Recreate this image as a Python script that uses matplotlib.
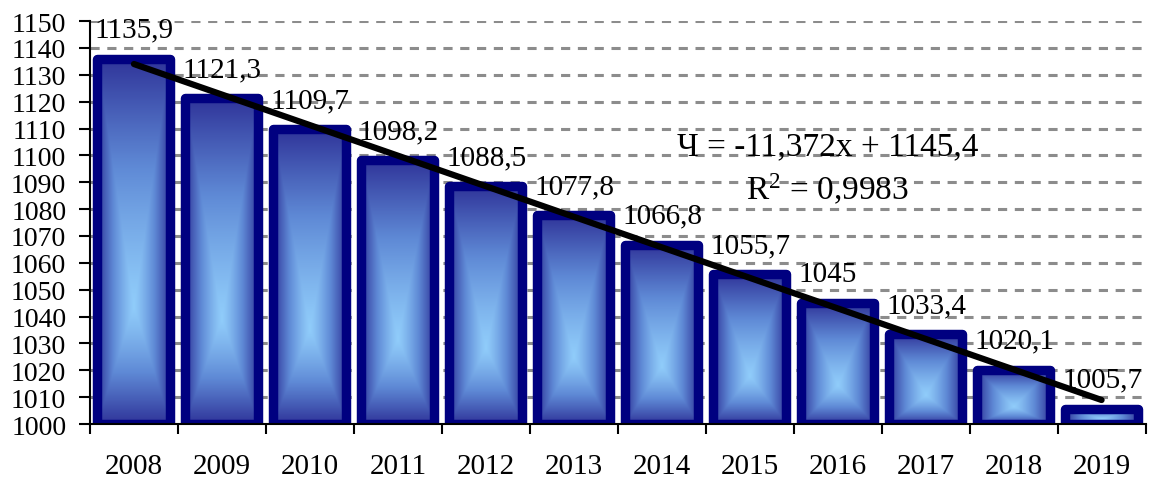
import numpy as np
import matplotlib
matplotlib.use("Agg")
import matplotlib.pyplot as plt
from matplotlib.colors import LinearSegmentedColormap
from matplotlib.ticker import FixedLocator

years = ['2008', '2009', '2010', '2011', '2012', '2013',
         '2014', '2015', '2016', '2017', '2018', '2019']
values = [1135.9, 1121.3, 1109.7, 1098.2, 1088.5, 1077.8,
          1066.8, 1055.7, 1045.0, 1033.4, 1020.1, 1005.7]
labels = ['1135,9', '1121,3', '1109,7', '1098,2', '1088,5', '1077,8',
          '1066,8', '1055,7', '1045', '1033,4', '1020,1', '1005,7']
trend_slope = -11.372
trend_icpt = 1145.4
eq_text = 'Ч = -11,372x + 1145,4'
r2_text = 'R$^2$ = 0,9983'

plt.rcParams['font.family'] = ['Liberation Serif', 'DejaVu Serif']
plt.rcParams['mathtext.fontset'] = 'custom'
plt.rcParams['mathtext.rm'] = 'Liberation Serif'
plt.rcParams['mathtext.it'] = 'Liberation Serif'
plt.rcParams['mathtext.default'] = 'rm'

fig = plt.figure(figsize=(11.49, 4.81), dpi=100)
ax = fig.add_axes([0.0783, 0.1164, 0.9187, 0.8376])

base = 1000
x = np.arange(len(years))

# grid behind bars
for yv in range(1010, 1151, 10):
    ax.axhline(yv, color='#8c8c8c', lw=2.2, ls=(0, (3, 2.5)), zorder=0)

cmap = LinearSegmentedColormap.from_list('grad', ['#90ccfa', '#5f8ad6', '#30359a'])
heights = [v - base for v in values]
bars = ax.bar(x, heights, width=0.83, bottom=base, facecolor='none',
              edgecolor='#000080', linewidth=6.8, joinstyle='round', zorder=3)

# gradient fill, light centre (a bit low) to dark edges
u = np.linspace(-1, 1, 60)
s = np.linspace(0, 1, 160)
c = 0.32
v = np.where(s < c, (s - c) / c, (s - c) / (1 - c))
U, V = np.meshgrid(u, v)
t = np.maximum(np.abs(U), np.abs(V)) ** 1.2
for b in bars:
    bx, by = b.get_x(), b.get_y()
    bw, bh = b.get_width(), b.get_height()
    im = ax.imshow(t, cmap=cmap, extent=[bx, bx + bw, by, by + bh],
                   aspect='auto', origin='lower', zorder=2,
                   interpolation='bilinear', vmin=0, vmax=1)
    im.set_clip_path(b)

# trend line
xt = np.array([0, len(years) - 1])
yt = trend_slope * (xt + 1) + trend_icpt
ax.plot(xt, yt, color='black', lw=4.5, solid_capstyle='round', zorder=4)

# value labels
for i, (val, lab) in enumerate(zip(values, labels)):
    ax.annotate(lab, xy=(i - 0.45, val), xytext=(0, 21),
                textcoords='offset points', ha='left', va='center',
                fontsize=21, color='black', zorder=5)

ax.text(0.699, 0.690, eq_text, transform=ax.transAxes, ha='center',
        va='center', fontsize=24, zorder=5)
ax.text(0.699, 0.583, r2_text, transform=ax.transAxes, ha='center',
        va='center', fontsize=24, zorder=5)

ax.set_xlim(-0.5, len(years) - 0.5)
ax.set_ylim(1000, 1150)
ax.set_yticks(range(1000, 1151, 10))
ax.tick_params(axis='y', labelsize=20, length=8, width=1.5, pad=9,
               direction='out')
ax.set_xticks(x)
ax.set_xticklabels(years)
ax.tick_params(axis='x', which='major', length=0, labelsize=21, pad=21)
ax.xaxis.set_minor_locator(FixedLocator(np.arange(-0.5, len(years), 1)))
ax.tick_params(axis='x', which='minor', length=7, width=1.5, direction='out')

for sp in ['top', 'right']:
    ax.spines[sp].set_visible(False)
ax.spines['left'].set_linewidth(1.5)
ax.spines['bottom'].set_linewidth(1.5)
ax.spines['bottom'].set_zorder(6)

fig.savefig('out.png', dpi=100)
